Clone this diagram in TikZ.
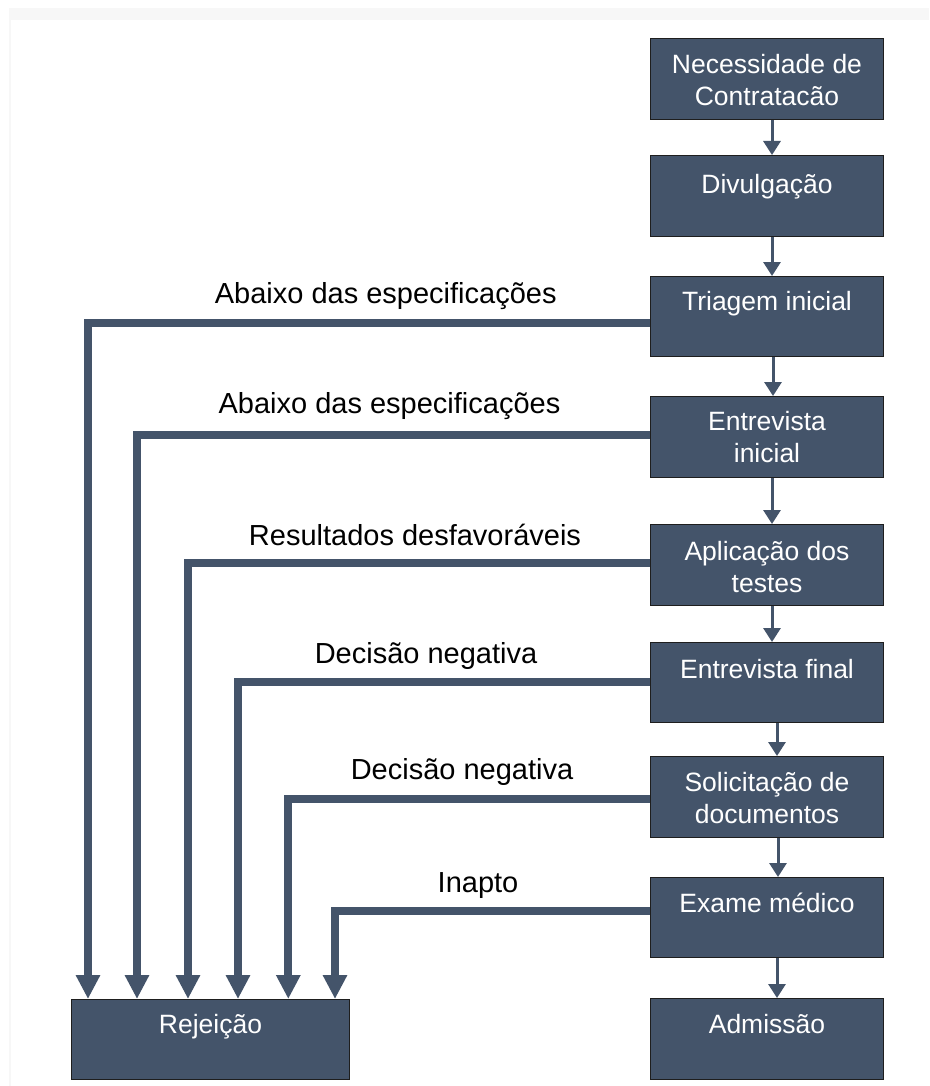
\documentclass[tikz,border=0pt]{standalone}
\usepackage{fontspec}
\setmainfont{Liberation Sans}
\usetikzlibrary{arrows.meta}
\definecolor{slate}{HTML}{44546A}
\definecolor{edgec}{HTML}{1E1E1E}
\begin{document}
\begin{tikzpicture}[x=1pt,y=-1pt,
  stepbox/.style={draw=edgec, line width=1pt, fill=slate, minimum width=233pt, minimum height=81pt, inner sep=0pt, anchor=north west},
  boxtext/.style={anchor=north, inner sep=0pt, align=center, text=white, font=\fontsize{26.5}{32}\selectfont},
  lab/.style={anchor=base, inner sep=0pt, text=black, font=\fontsize{29}{34}\selectfont},
  flow/.style={draw=slate, line width=3pt, -{Triangle[width=17pt,length=14pt]}},
  rejline/.style={draw=slate, line width=8pt, line join=miter, -{Triangle[width=23pt,length=24pt]}}
]
\useasboundingbox (0,0) rectangle (929,1086);
\fill[white] (0,0) rectangle (929,1086);
\fill[black!3] (9,8) rectangle (929,20);
\fill[black!3] (9,8) rectangle (11,1086);

% process boxes
\node[stepbox] (n1) at (650,38) {};
\node[stepbox] (n2) at (650,155) {};
\node[stepbox, minimum height=80pt] (n3) at (650,276) {};
\node[stepbox] (n4) at (650,396) {};
\node[stepbox] (n5) at (650,524) {};
\node[stepbox, minimum height=80pt] (n6) at (650,642) {};
\node[stepbox] (n7) at (650,756) {};
\node[stepbox, minimum height=80pt] (n8) at (650,877) {};
\node[stepbox] (n9) at (650,998) {};
\node[stepbox, minimum width=278pt, minimum height=80pt] (rej) at (71,999) {};

% box texts
\node[boxtext] (t1) at ([yshift=-12.6pt]n1.north) {\strut Necessidade de\\Contratacão};
\node[boxtext] (t2) at ([yshift=-15.6pt]n2.north) {\strut Divulgação};
\node[boxtext] (t3) at ([yshift=-11.6pt]n3.north) {\strut Triagem inicial};
\node[boxtext] (t4) at ([yshift=-11.6pt]n4.north) {\strut Entrevista\\inicial};
\node[boxtext] (t5) at ([yshift=-13.6pt]n5.north) {\strut Aplicação dos\\testes};
\node[boxtext] (t6) at ([yshift=-13.6pt]n6.north) {\strut Entrevista final};
\node[boxtext] (t7) at ([yshift=-12.6pt]n7.north) {\strut Solicitação de\\documentos};
\node[boxtext] (t8) at ([yshift=-12.6pt]n8.north) {\strut Exame médico};
\node[boxtext] (t9) at ([yshift=-12.6pt]n9.north) {\strut Admissão};
\node[boxtext] (tr) at ([yshift=-11.6pt]rej.north) {\strut Rejeição};

% main flow
\draw[flow] (n1.south -| 772,0) -- (n2.north -| 772,0);
\draw[flow] (n2.south -| 772,0) -- (n3.north -| 772,0);
\draw[flow] (n3.south -| 773,0) -- (n4.north -| 773,0);
\draw[flow] (n4.south -| 772,0) -- (n5.north -| 772,0);
\draw[flow] (n5.south -| 772,0) -- (n6.north -| 772,0);
\draw[flow] (n6.south -| 777,0) -- (n7.north -| 777,0);
\draw[flow] (n7.south -| 778,0) -- (n8.north -| 778,0);
\draw[flow] (n8.south -| 777,0) -- (n9.north -| 777,0);

% rejection paths
\draw[rejline] (n3.west |- 0,322.5) -| (rej.north -| 88,0);
\draw[rejline] (n4.west |- 0,435) -| (rej.north -| 137,0);
\draw[rejline] (n5.west |- 0,562.7) -| (rej.north -| 188,0);
\draw[rejline] (n6.west |- 0,681.7) -| (rej.north -| 238,0);
\draw[rejline] (n7.west |- 0,799) -| (rej.north -| 288.3,0);
\draw[rejline] (n8.west |- 0,910.7) -| (rej.north -| 335,0);

% labels
\node[lab] (l1) at (385.7,303) {Abaixo das especificações};
\node[lab] (l2) at (389.5,413) {Abaixo das especificações};
\node[lab] (l3) at (415,545) {Resultados desfavoráveis};
\node[lab] (l4) at (426,663) {Decisão negativa};
\node[lab] (l5) at (462,779) {Decisão negativa};
\node[lab] (l6) at (478,892.7) {Inapto};
\end{tikzpicture}
\end{document}
